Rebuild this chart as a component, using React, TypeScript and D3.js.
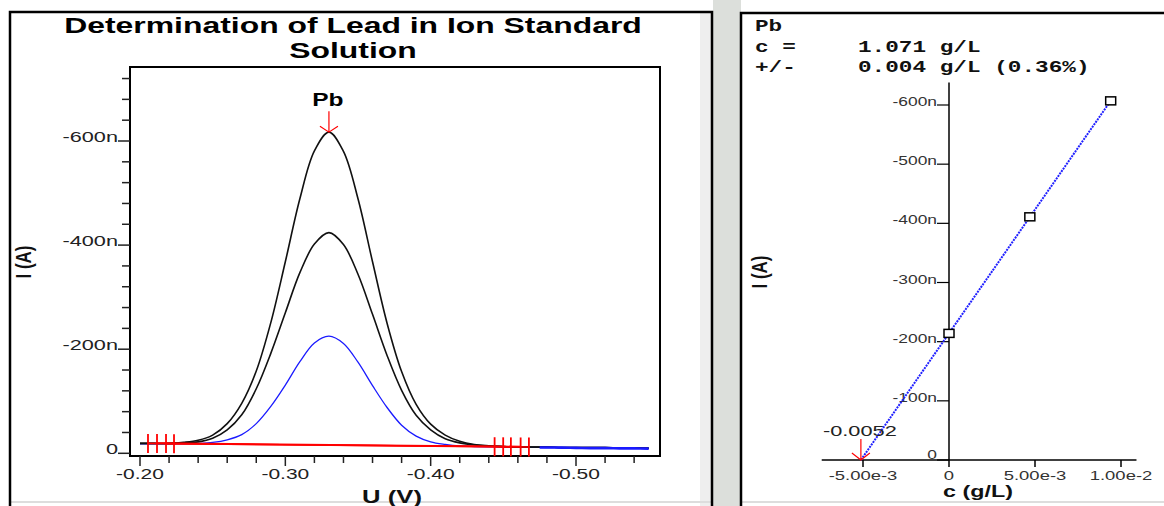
import React from "react";
import * as d3 from "d3";

const W = 1164,
  H = 506;
const SANS = "'Liberation Sans', Arial, sans-serif";
const MONO = "'Liberation Mono', 'Courier New', monospace";
const SX = 1.45; // the screenshot is stretched horizontally

// voltammogram: potential (V) and current (nA)
const potentials = [
  -0.2, -0.21, -0.22, -0.23, -0.24, -0.25, -0.26, -0.27, -0.28, -0.29, -0.3,
  -0.31, -0.32, -0.33, -0.34, -0.35, -0.36, -0.37, -0.38, -0.39, -0.4, -0.41,
  -0.42, -0.43, -0.44, -0.45, -0.46, -0.47, -0.48, -0.49, -0.5, -0.51, -0.52,
  -0.53, -0.54, -0.55,
];
const sampleCurve = [
  -18, -18, -18, -18, -19, -21, -26, -36, -57, -90, -131, -176, -212, -225,
  -211, -175, -130, -88, -54, -33, -22, -17, -14, -13, -12.5, -12, -12, -11.5,
  -11, -11, -10.5, -10, -10, -9.5, -9.5, -9,
];
const addition1 = [
  -19, -19, -19, -20, -22, -29, -45, -74, -124, -192, -270, -347, -402, -424,
  -401, -344, -267, -188, -121, -73, -45, -28, -20, -16, -14, -13, -12, -12,
  -12, -11, -11, -11, -11, -10, -10, -10,
];
const addition2 = [
  -19, -19, -19, -21, -25, -35, -57, -96, -158, -251, -368, -489, -581, -617,
  -580, -489, -368, -250, -157, -94, -56, -35, -23, -17, -14.5, -13, -12, -12,
  -12, -11, -11, -11, -11, -10, -10, -10,
];
const peakPotential = -0.33;
const peakLabel = "Pb";

// baseline markers (V) and fitted baselines
const leftMarks = [-0.2055, -0.2117, -0.2179, -0.2234];
const rightMarks = [-0.444, -0.4499, -0.4552, -0.4619, -0.4676];
const baseFrom = [-0.205, -0.211, -0.217];
const baseTo = [-0.468, -0.462, -0.455];
const baseFromI = [-19, -19.5, -18.5];
const baseToI = [-12, -13, -12.5];

const xTickLabelsL = [-0.2, -0.3, -0.4, -0.5];
const xTickTextL = ["-0.20", "-0.30", "-0.40", "-0.50"];
const yTickLabelsL = [0, -200, -400, -600];
const yTickTextL = ["0", "-200n", "-400n", "-600n"];

// standard addition calibration
const calConc = [0, 0.0047, 0.0094];
const calCurrent = [-214, -411, -607];
const resultLines = [
  ["Pb", ""],
  ["c =", "1.071 g/L"],
  ["+/-", "0.004 g/L (0.36%)"],
];
const interceptText = "-0.0052";
const xTicksR = [-0.005, 0, 0.005, 0.01];
const xTickTextR = ["-5.00e-3", "0", "5.00e-3", "1.00e-2"];
const yTicksR = [0, -100, -200, -300, -400, -500, -600];
const yTickTextR = ["0", "-100n", "-200n", "-300n", "-400n", "-500n", "-600n"];

function T({
  x,
  y,
  children,
  size = 14,
  weight = "normal",
  anchor = "start",
  sx = SX,
  fill = "#222",
  family = SANS,
  rotate = false,
}: any) {
  return (
    <text
      transform={`translate(${x},${y}) scale(${sx},1)${rotate ? " rotate(-90)" : ""}`}
      fontSize={size}
      fontWeight={weight}
      textAnchor={anchor}
      fill={fill}
      fontFamily={family}
    >
      {children}
    </text>
  );
}

export default function App() {
  // left chart scales
  const xL = d3.scaleLinear().domain([-0.2, -0.5]).range([140, 576]);
  const yL = d3.scaleLinear().domain([0, -600]).range([453.3, 141]);
  const line = d3
    .line<number>()
    .x((_, i) => xL(potentials[i]))
    .y((d) => yL(d))
    .curve(d3.curveCatmullRom.alpha(0.5));
  const xMinor = d3.range(18).map((i) => -0.2 - 0.02 * i);
  const yMinor = d3.range(19).map((i) => -40 * i);
  const isMajorX = (v: number) => xTickLabelsL.some((m) => Math.abs(m - v) < 1e-6);
  const isMajorY = (v: number) => yTickLabelsL.some((m) => Math.abs(m - v) < 1e-6);

  const peakI = d3.min(addition2) as number;
  const tipY = yL(peakI);
  const px = xL(peakPotential);

  const baseAt = (v: number) =>
    d3.scaleLinear().domain([baseFrom[0], baseTo[0]]).range([baseFromI[0], baseToI[0]])(v);

  // right chart scales
  const xR = d3.scaleLinear().domain([-0.005, 0.01]).range([863, 1121]);
  const yR = d3.scaleLinear().domain([0, -600]).range([460, 105]);
  const mx = d3.mean(calConc) as number;
  const my = d3.mean(calCurrent) as number;
  const slope =
    d3.sum(calConc.map((c, i) => (c - mx) * (calCurrent[i] - my))) /
    d3.sum(calConc.map((c) => (c - mx) ** 2));
  const icpt = my - slope * mx;
  const xInt = -icpt / slope;
  const xLast = calConc[calConc.length - 1];
  const ix = xR(xInt);

  return (
    <svg
      width={W}
      height={H}
      style={{ position: "absolute", left: 0, top: 0, background: "#fff" }}
    >
      <defs>
        <clipPath id="tailClip">
          <rect x={xL(-0.475)} y={400} width={200} height={80} />
        </clipPath>
      </defs>

      {/* panel backgrounds */}
      <rect x={713} y={0} width={28} height={H} fill="#dcdfdb" />
      <rect x={700} y={13} width={11} height={H} fill="#eeeeee" />
      <line x1={10} x2={712} y1={502} y2={502} stroke="#dddddd" strokeWidth={2} />
      <line x1={741} x2={W} y1={502} y2={502} stroke="#dddddd" strokeWidth={2} />
      <path d={`M10,${H} V12 H712 V${H}`} fill="none" stroke="#000" strokeWidth={2.5} />
      <path d={`M741,${H} V13 H${W}`} fill="none" stroke="#000" strokeWidth={2.5} />

      {/* ---------- left: voltammogram ---------- */}
      <T x={353} y={33} size={22} weight="bold" anchor="middle" fill="#000">
        Determination of Lead in Ion Standard
      </T>
      <T x={353} y={58} size={22} weight="bold" anchor="middle" fill="#000">
        Solution
      </T>

      <rect x={130} y={67} width={530} height={389} fill="none" stroke="#000" strokeWidth={2} />

      {yMinor.map((v) => (
        <line
          key={"yl" + v}
          x1={isMajorY(v) ? 118 : 122}
          x2={130}
          y1={yL(v)}
          y2={yL(v)}
          stroke="#222"
          strokeWidth={1.5}
        />
      ))}
      {yTickLabelsL.map((v, i) => (
        <T key={"ylt" + v} x={118} y={yL(v) + 1} anchor="end" size={14} sx={1.55}>
          {yTickTextL[i]}
        </T>
      ))}
      {xMinor.map((v) => (
        <line
          key={"xl" + v}
          x1={xL(v)}
          x2={xL(v)}
          y1={456}
          y2={isMajorX(v) ? 466 : 463}
          stroke="#222"
          strokeWidth={1.5}
        />
      ))}
      {xTickLabelsL.map((v, i) => (
        <T key={"xlt" + v} x={xL(v)} y={479} anchor="middle" size={14} sx={1.5}>
          {xTickTextL[i]}
        </T>
      ))}
      <T x={392} y={503} size={19} weight="bold" anchor="middle" sx={1.35} fill="#111">
        U (V)
      </T>
      <T x={31} y={262} size={17} weight="bold" anchor="middle" sx={1.3} rotate fill="#111">
        I (A)
      </T>

      <path d={line(sampleCurve) || ""} fill="none" stroke="#1a1aff" strokeWidth={1.3} />
      <path d={line(addition1) || ""} fill="none" stroke="#111" strokeWidth={1.6} />
      <path d={line(addition2) || ""} fill="none" stroke="#111" strokeWidth={1.6} />
      {/* blue tail drawn over the black ones past the right markers */}
      <path
        d={line(sampleCurve) || ""}
        fill="none"
        stroke="#1a1aff"
        strokeWidth={2.6}
        clipPath="url(#tailClip)"
      />

      {baseFrom.map((v, i) => (
        <line
          key={"bl" + i}
          x1={xL(v)}
          x2={xL(baseTo[i])}
          y1={yL(baseFromI[i])}
          y2={yL(baseToI[i])}
          stroke="#ff0000"
          strokeWidth={1.6}
        />
      ))}
      {[...leftMarks, ...rightMarks].map((v) => (
        <line
          key={"mk" + v}
          x1={xL(v)}
          x2={xL(v)}
          y1={yL(baseAt(v)) - 9.5}
          y2={yL(baseAt(v)) + 9.5}
          stroke="#ff0000"
          strokeWidth={1.8}
        />
      ))}

      <T x={px - 1} y={tipY - 26} size={17.5} weight="bold" anchor="middle" sx={1.4} fill="#000">
        {peakLabel}
      </T>
      <path
        d={`M${px},${tipY - 21} V${tipY} M${px - 9},${tipY - 6} L${px},${tipY} L${px + 9},${tipY - 6}`}
        fill="none"
        stroke="#ff0000"
        strokeWidth={1.2}
      />

      {/* ---------- right: standard addition ---------- */}
      {resultLines.map(([a, b], i) => (
        <g key={"rl" + i}>
          <T x={755} y={31 + i * 20.5} size={16} weight="bold" sx={1.42} family={MONO} fill="#111">
            {a}
          </T>
          <T x={858} y={31 + i * 20.5} size={16} weight="bold" sx={1.42} family={MONO} fill="#111">
            {b}
          </T>
        </g>
      ))}

      <line x1={xR(0)} x2={xR(0)} y1={yR(-638)} y2={yR(0)} stroke="#000" strokeWidth={1.5} />
      <line x1={xR(-0.0074)} x2={xR(0.0109)} y1={yR(0)} y2={yR(0)} stroke="#000" strokeWidth={1.5} />
      {yTicksR.map((v, i) => (
        <g key={"yr" + v}>
          <line x1={xR(0) - 12} x2={xR(0)} y1={yR(v)} y2={yR(v)} stroke="#000" strokeWidth={1.2} />
          <T x={xR(0) - 12} y={yR(v) + (v === 0 ? -1 : 1)} anchor="end" size={12} fill="#333">
            {yTickTextR[i]}
          </T>
        </g>
      ))}
      {xTicksR.map((v, i) => (
        <g key={"xr" + v}>
          <line x1={xR(v)} x2={xR(v)} y1={yR(0)} y2={yR(0) + 7} stroke="#000" strokeWidth={1.5} />
          <T x={xR(v)} y={480} anchor="middle" size={13} sx={1.42} fill="#333">
            {xTickTextR[i]}
          </T>
        </g>
      ))}
      <T x={978} y={497} anchor="middle" size={17} weight="bold" sx={1.37} fill="#111">
        c (g/L)
      </T>
      <T x={767} y={272} anchor="middle" size={17} weight="bold" sx={1.3} rotate fill="#111">
        I (A)
      </T>

      <line
        x1={ix}
        y1={yR(0)}
        x2={xR(xLast)}
        y2={yR(icpt + slope * xLast)}
        stroke="#2020ff"
        strokeWidth={2}
        strokeDasharray="2,1"
      />
      {calConc.map((c, i) => (
        <rect
          key={"pt" + i}
          x={xR(c) - 5}
          y={yR(calCurrent[i]) - 4}
          width={10}
          height={8}
          fill="#fff"
          stroke="#000"
          strokeWidth={1.5}
        />
      ))}

      <T x={823} y={436} size={15} fill="#222">
        {interceptText}
      </T>
      <path
        d={`M${ix},${yR(0) - 21} V${yR(0)} M${ix - 9},${yR(0) - 7} L${ix},${yR(0)} L${ix + 9},${yR(0) - 7}`}
        fill="none"
        stroke="#ff0000"
        strokeWidth={1.2}
      />
    </svg>
  );
}
